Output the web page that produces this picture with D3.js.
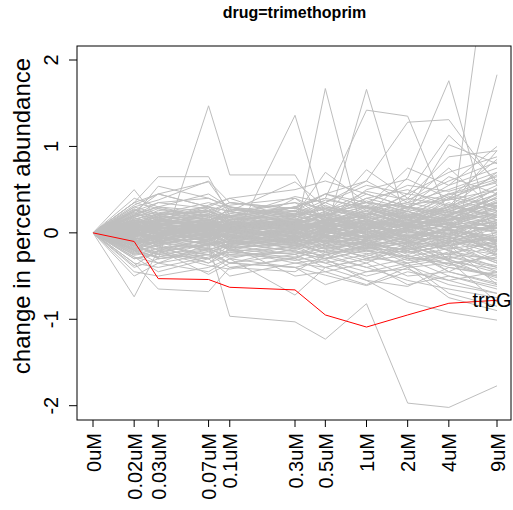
<!DOCTYPE html>
<html><head><meta charset="utf-8">
<script src="https://cdn.jsdelivr.net/npm/d3@7"></script>
<style>
html,body{margin:0;padding:0;background:#fff;}
text{font-family:"Liberation Sans",Arial,Helvetica,sans-serif;fill:#000;}
</style></head>
<body><svg id="chart" width="513" height="510"></svg>
<script>
const title = "drug=trimethoprim";
const yLabel = "change in percent abundance";
const concentrations = [0, 0.02, 0.03, 0.07, 0.1, 0.3, 0.5, 1, 2, 4, 9];
const concLabels = ["0uM","0.02uM","0.03uM","0.07uM","0.1uM","0.3uM","0.5uM","1uM","2uM","4uM","9uM"];
const yTicks = [-2, -1, 0, 1, 2];
const yTickLabels = ["-2", "-1", "0", "1", "2"];
const highlightName = "trpG";
const highlightValues = [0, -0.10, -0.53, -0.54, -0.63, -0.66, -0.95, -1.09, -0.95, -0.815, -0.78];
const backgroundProfiles = [
 [0, 0.10, -0.30, 1.47, 0.67, 0.67, 0.10, 0.05, -0.10, 0.15, 0.20],
 [0, 0.05, 0.12, 0.00, -0.18, 1.36, 0.18, 0.10, 0.25, 0.05, -0.10],
 [0, -0.05, 0.08, 0.15, 0.05, -0.05, 1.67, -0.18, 0.20, 0.30, 0.50],
 [0, 0.02, -0.05, 0.10, 0.08, 0.12, 0.00, 1.66, 0.07, 0.20, 0.35],
 [0, 0.10, 0.20, 0.25, 0.15, 0.30, 0.40, 1.42, 1.35, 0.20, 0.10],
 [0, 0.05, 0.10, 0.15, 0.20, 0.30, 0.45, 0.60, 1.28, 1.31, 0.55],
 [0, -0.05, 0.05, 0.00, 0.10, 0.05, 0.15, 0.20, 0.64, 1.76, -0.20],
 [0, 0.08, 0.00, -0.10, 0.05, 0.12, 0.20, 0.30, 0.10, -0.14, 4.00],
 [0, 0.00, -0.08, 0.05, -0.10, 0.00, 0.10, -0.05, 0.20, -0.33, 1.83],
 [0, -0.20, -0.35, -0.13, -0.965, -1.03, -1.23, -0.82, -1.97, -2.02, -1.77],
 [0, 0.35, 0.65, 0.65, 0.20, 0.25, 0.10, 0.30, 0.15, 0.40, 0.60],
 [0, 0.50, 0.15, 0.30, 0.25, 0.10, 0.20, 0.05, 0.30, 0.15, 0.45],
 [0, -0.74, -0.20, -0.35, -0.25, -0.15, -0.30, -0.20, -0.40, -0.35, -0.50],
 [0, -0.35, -0.65, -0.68, -0.40, -0.30, -0.45, -0.35, -0.60, -0.50, -0.65],
 [0, -0.15, -0.25, -0.30, -0.20, -0.35, -0.40, -0.55, -0.80, -0.92, -1.01],
 [0, -0.10, -0.30, -0.25, -0.35, -0.40, -0.49, -0.61, -0.45, -0.55, -0.70],
 [0, 0.12, 0.18, 0.22, 0.15, 0.20, 0.28, 0.35, 0.30, 0.45, 0.62],
 [0, -0.08, -0.12, -0.05, -0.10, -0.15, -0.08, -0.20, -0.18, -0.25, -0.30],
 [0, 0.05, 0.02, 0.08, 0.04, 0.10, 0.06, 0.12, 0.08, 0.15, 0.22],
 [0, -0.15, -0.10, -0.20, -0.12, -0.08, -0.18, -0.10, -0.22, -0.15, -0.35],
 [0, 0.22, 0.30, 0.18, 0.25, 0.12, 0.20, 0.40, 0.28, 0.55, 0.75],
 [0, 0.02, -0.04, 0.03, -0.02, 0.05, -0.06, 0.02, -0.05, 0.04, -0.08],
 [0, -0.25, -0.18, -0.30, -0.22, -0.28, -0.20, -0.32, -0.26, -0.40, -0.48],
 [0, 0.30, 0.22, 0.35, 0.28, 0.18, 0.30, 0.22, 0.45, 0.38, 0.50],
 [0, -0.05, 0.06, -0.02, 0.08, 0.00, 0.10, -0.06, 0.05, 0.12, 0.08],
 [0, 0.10, -0.05, 0.12, 0.02, -0.08, 0.04, 0.15, -0.10, 0.05, 0.18],
 [0, -0.30, -0.25, -0.18, -0.28, -0.20, -0.35, -0.25, -0.38, -0.30, -0.55],
 [0, 0.18, 0.08, 0.25, 0.10, 0.30, 0.15, 0.20, 0.35, 0.25, 0.40],
 [0, -0.10, -0.20, -0.08, -0.15, -0.25, -0.12, -0.30, -0.15, -0.45, -0.20],
 [0, 0.08, 0.15, 0.05, 0.18, 0.08, 0.22, 0.10, 0.18, 0.30, 0.95],
 [0, -0.02, 0.04, -0.08, 0.00, -0.05, 0.03, -0.10, 0.02, -0.12, 0.10],
 [0, 0.25, 0.35, 0.40, 0.30, 0.22, 0.38, 0.30, 0.20, 0.42, 0.30],
 [0, -0.18, -0.30, -0.22, -0.35, -0.18, -0.28, -0.40, -0.30, -0.50, -0.62],
 [0, 0.04, 0.10, 0.15, 0.06, 0.12, 0.02, 0.20, 0.12, -0.05, 0.25],
 [0, -0.12, -0.02, -0.15, -0.05, -0.12, -0.22, -0.08, -0.28, -0.18, -0.12],
 [0, 0.15, 0.05, 0.10, 0.20, 0.15, 0.08, 0.28, 0.15, 0.35, 0.15],
 [0, -0.35, -0.40, -0.28, -0.20, -0.32, -0.25, -0.15, -0.35, -0.28, -0.40],
 [0, 0.35, 0.28, 0.20, 0.32, 0.40, 0.25, 0.48, 0.38, 0.60, 0.82],
 [0, 0.00, -0.08, 0.05, -0.06, 0.02, -0.10, 0.08, -0.04, -0.15, -0.05],
 [0, -0.06, 0.12, -0.10, 0.10, -0.02, 0.15, 0.00, 0.20, 0.10, 0.35],
 [0, 0.20, 0.12, 0.28, 0.05, 0.18, 0.32, 0.15, 0.25, 0.08, 0.05],
 [0, -0.22, -0.15, -0.35, -0.18, -0.10, -0.25, -0.18, -0.12, -0.32, -0.80],
 [0, 0.06, 0.20, 0.10, 0.25, 0.05, 0.12, 0.30, 0.10, 0.28, 0.50],
 [0, -0.04, -0.15, 0.02, -0.08, -0.18, -0.02, -0.12, -0.20, -0.08, -0.25],
 [0, 0.40, 0.30, 0.25, 0.35, 0.28, 0.45, 0.35, 0.55, 0.48, 0.65],
 [0, 0.10, 0.04, -0.04, 0.12, 0.06, -0.02, 0.10, 0.00, 0.20, -0.10],
 [0, -0.14, -0.06, -0.12, -0.18, -0.06, -0.14, -0.22, -0.10, -0.20, -0.40],
 [0, 0.14, 0.26, 0.20, 0.12, 0.25, 0.18, 0.05, 0.22, 0.15, 0.28],
 [0, -0.28, -0.35, -0.45, -0.30, -0.40, -0.32, -0.45, -0.42, -0.60, -0.70],
 [0, 0.02, 0.08, -0.02, 0.10, 0.15, 0.05, -0.05, 0.12, 0.25, 0.45],
 [0, -0.08, 0.02, 0.08, -0.04, 0.04, -0.12, 0.05, -0.15, 0.00, -0.18],
 [0, 0.28, 0.15, 0.32, 0.40, 0.15, 0.22, 0.45, 0.30, 0.25, 0.15],
 [0, -0.20, -0.28, -0.12, -0.25, -0.30, -0.15, -0.28, -0.35, -0.22, -0.45],
 [0, 0.08, -0.02, 0.06, 0.00, 0.08, 0.12, -0.02, 0.06, 0.18, 0.30],
 [0, -0.40, -0.30, -0.20, -0.35, -0.25, -0.40, -0.30, -0.20, -0.45, -0.58],
 [0, 0.18, 0.28, 0.15, 0.22, 0.35, 0.28, 0.18, 0.40, 0.32, 0.20],
 [0, 0.00, 0.05, 0.12, 0.08, -0.04, 0.08, 0.18, 0.05, -0.08, 0.12],
 [0, -0.10, -0.16, -0.25, -0.08, -0.14, -0.05, -0.18, -0.08, -0.30, -0.15],
 [0, 0.12, 0.00, 0.18, 0.14, 0.02, 0.16, 0.05, 0.25, 0.12, 0.38],
 [0, 0.32, 0.45, 0.30, 0.18, 0.42, 0.35, 0.55, 0.45, 0.70, 0.88],
 [0, -0.06, -0.10, 0.00, -0.14, 0.00, -0.06, -0.14, 0.02, -0.05, -0.22],
 [0, 0.24, 0.10, 0.05, 0.15, 0.20, 0.10, 0.25, 0.08, 0.40, 0.25],
 [0, -0.16, -0.22, -0.14, -0.10, -0.22, -0.30, -0.08, -0.25, -0.12, -0.35],
 [0, 0.06, 0.14, 0.22, 0.10, 0.14, 0.24, 0.12, 0.30, 0.20, 0.05],
 [0, -0.02, -0.06, -0.12, 0.04, -0.10, 0.00, -0.04, -0.12, 0.08, 0.02],
 [0, 0.16, 0.22, 0.08, 0.30, 0.10, 0.06, 0.22, 0.18, 0.05, 0.32],
 [0, -0.24, -0.12, -0.18, -0.30, -0.15, -0.22, -0.35, -0.15, -0.38, -0.25],
 [0, 0.04, -0.10, 0.00, -0.12, 0.06, -0.04, -0.08, 0.10, -0.02, 0.15],
 [0, 0.20, 0.35, 0.28, 0.18, 0.30, 0.40, 0.28, 0.35, 0.50, 0.70],
 [0, -0.12, -0.05, -0.22, -0.15, -0.05, -0.18, -0.12, -0.30, -0.24, -0.10],
 [0, 0.10, 0.16, 0.04, 0.06, 0.22, 0.12, 0.06, 0.14, 0.30, 0.55],
 [0, -0.30, -0.22, -0.38, -0.42, -0.28, -0.35, -0.50, -0.38, -0.55, -0.45],
 [0, 0.02, 0.12, 0.20, -0.02, 0.10, 0.20, 0.35, 0.15, 0.05, -0.15],
 [0, -0.04, 0.00, -0.06, 0.06, -0.12, 0.02, -0.16, -0.06, 0.12, -0.28],
 [0, 0.26, 0.18, 0.12, 0.20, 0.26, 0.16, 0.32, 0.22, 0.15, 0.42],
 [0, -0.18, -0.08, -0.02, -0.20, -0.08, -0.10, 0.02, -0.18, -0.10, 0.05],
 [0, 0.10, 0.22, 0.30, 0.25, 0.59, 0.30, 0.20, 0.45, 1.13, 0.60],
 [0, 0.05, 0.00, 0.10, 0.15, 0.20, 0.70, 0.35, 0.25, 1.02, 0.80],
 [0, -0.05, 0.10, 0.05, 0.12, 0.30, 0.20, 0.73, 0.40, 0.88, 0.95],
 [0, 0.15, 0.10, 0.22, 0.35, 0.25, 0.45, 0.30, 0.75, 0.55, 1.00],
 [0, 0.20, 0.30, 0.45, 0.30, 0.15, 0.35, 0.60, 0.35, 0.75, 0.25],
 [0, 0.30, 0.38, 0.60, 0.35, 0.28, 0.20, 0.40, 0.50, 0.30, 0.70],
 [0, 0.35, 0.45, 0.30, 0.40, 0.50, 0.60, 0.45, 0.30, 0.65, 0.45],
 [0, -0.10, -0.05, 0.10, 0.00, 0.40, 0.15, 0.50, 0.62, 0.40, 0.85],
 [0, -0.45, -0.50, -0.40, -0.30, -0.72, -0.40, -0.30, -0.50, -0.45, -0.60],
 [0, -0.38, -0.20, -0.48, -0.35, -0.40, -0.60, -0.45, -0.35, -0.70, -0.85],
 [0, -0.28, -0.45, -0.30, -0.50, -0.35, -0.30, -0.55, -0.62, -0.40, -0.50],
 [0, -0.50, -0.35, -0.25, -0.40, -0.45, -0.25, -0.40, -0.55, -0.65, -0.75],
 [0, -0.20, -0.10, -0.30, -0.15, -0.50, -0.45, -0.60, -0.40, -0.75, -0.90],
 [0, 0.20, 0.54, 0.40, 0.30, 0.20, 0.35, 0.15, 0.30, 0.20, 0.40],
 [0, 0.25, 0.45, 0.59, 0.25, 0.35, 0.15, 0.25, 0.10, 0.30, 0.20],
 [0, 0.03, 0.07, -0.03, 0.05, 0.09, 0.01, -0.04, 0.06, 0.11, 0.02],
 [0, -0.07, -0.03, 0.04, -0.09, -0.02, -0.07, 0.03, -0.10, -0.04, -0.14],
 [0, 0.09, 0.01, 0.07, 0.11, 0.03, 0.09, 0.13, 0.04, 0.08, 0.18],
 [0, -0.01, -0.09, -0.07, -0.03, -0.11, 0.01, -0.06, -0.02, -0.13, -0.07],
 [0, 0.06, 0.11, 0.01, -0.04, 0.07, 0.13, 0.04, 0.10, -0.03, 0.08],
 [0, -0.11, -0.05, -0.13, -0.07, 0.01, -0.09, -0.15, -0.05, -0.09, -0.20],
 [0, 0.13, 0.05, 0.09, 0.01, 0.12, 0.04, 0.08, 0.15, 0.06, 0.12],
 [0, -0.03, 0.03, -0.01, -0.06, -0.08, 0.05, 0.00, -0.08, 0.03, -0.04],
 [0, 0.01, -0.06, 0.10, 0.03, -0.03, -0.09, 0.06, 0.01, -0.07, 0.09],
 [0, -0.09, -0.13, -0.04, -0.11, -0.06, -0.03, -0.11, -0.13, -0.02, -0.10],
 [0, 0.07, 0.09, 0.13, 0.07, 0.04, 0.11, 0.01, 0.09, 0.14, 0.26],
 [0, -0.05, 0.01, -0.09, 0.02, -0.04, -0.11, -0.07, 0.03, -0.10, 0.00],
 [0, 0.11, 0.03, -0.05, 0.09, 0.13, 0.07, 0.11, -0.03, 0.04, -0.06],
 [0, -0.13, -0.07, -0.01, -0.13, -0.09, -0.15, -0.03, -0.09, -0.17, -0.25],
 [0, 0.00, 0.13, 0.06, 0.00, 0.02, 0.16, 0.09, 0.12, 0.02, 0.14],
 [0, 0.04, -0.01, 0.02, 0.08, -0.06, 0.03, -0.09, 0.07, 0.10, -0.12],
 [0, -0.06, -0.11, -0.10, -0.01, -0.13, -0.04, -0.08, -0.16, -0.06, -0.16],
 [0, 0.08, 0.05, 0.11, 0.13, 0.08, -0.01, 0.16, 0.03, 0.22, 0.32],
 [0, -0.02, 0.09, 0.00, -0.05, 0.03, 0.08, -0.02, -0.07, 0.06, 0.05],
 [0, 0.14, 0.10, 0.03, 0.06, 0.16, 0.10, 0.03, 0.20, 0.12, 0.00],
 [0, -0.15, -0.01, -0.06, -0.16, -0.04, -0.12, -0.18, -0.03, -0.21, -0.32],
 [0, 0.02, 0.04, 0.14, 0.04, -0.01, 0.06, 0.14, 0.07, -0.01, 0.20],
 [0, -0.08, -0.14, -0.03, -0.04, -0.07, 0.04, -0.05, -0.11, -0.15, -0.02],
 [0, 0.05, -0.03, 0.05, 0.10, 0.11, -0.05, 0.05, 0.11, 0.16, 0.36],
 [0, -0.04, 0.06, -0.11, -0.10, 0.00, -0.02, 0.10, -0.01, -0.05, -0.18],
 [0, 0.12, 0.14, 0.08, 0.03, 0.06, 0.14, 0.19, 0.06, 0.24, 0.10],
 [0, -0.10, -0.02, -0.08, 0.01, -0.15, -0.08, -0.13, -0.20, -0.11, -0.05],
 [0, 0.06, 0.08, -0.06, 0.07, 0.04, 0.09, -0.06, 0.13, 0.09, 0.24],
 [0, -0.01, -0.04, 0.07, -0.08, 0.07, -0.05, 0.04, -0.04, 0.01, -0.09],
 [0, 0.10, 0.00, 0.02, 0.14, -0.02, 0.18, 0.07, 0.02, 0.19, 0.06],
 [0, 0.17, 0.09, 0.19, 0.05, 0.11, 0.21, 0.09, 0.17, 0.27, 0.44],
 [0, -0.19, -0.09, -0.17, -0.23, -0.11, -0.19, -0.27, -0.13, -0.33, -0.42],
 [0, 0.03, -0.12, 0.09, -0.07, 0.05, -0.13, 0.11, -0.06, 0.13, -0.20],
 [0, 0.21, 0.17, 0.07, 0.19, 0.09, 0.23, 0.13, 0.27, 0.19, 0.52],
 [0, -0.13, -0.19, -0.07, -0.21, -0.17, -0.09, -0.21, -0.27, -0.36, -0.52],
 [0, 0.09, 0.19, 0.16, 0.09, 0.19, 0.13, 0.23, 0.11, 0.33, 0.18],
 [0, -0.21, -0.14, -0.26, -0.12, -0.21, -0.26, -0.14, -0.32, -0.27, -0.38],
 [0, 0.01, 0.10, -0.04, 0.16, -0.07, 0.09, 0.17, -0.08, 0.21, 0.40],
 [0, 0.27, 0.21, 0.26, 0.15, 0.23, 0.19, 0.37, 0.24, 0.44, 0.58],
 [0, -0.07, -0.17, -0.14, -0.02, -0.19, -0.13, -0.02, -0.17, 0.04, -0.26],
 [0, 0.15, 0.07, 0.21, 0.17, 0.07, 0.14, 0.26, 0.19, 0.09, 0.29],
 [0, -0.26, -0.21, -0.13, -0.19, -0.25, -0.17, -0.24, -0.21, -0.31, -0.46],
 [0, 0.05, 0.17, 0.03, 0.12, 0.17, 0.01, 0.09, 0.21, 0.17, 0.05],
 [0, -0.11, 0.04, -0.16, -0.09, 0.03, -0.16, -0.09, -0.03, -0.20, 0.12],
 [0, 0.19, 0.24, 0.14, 0.27, 0.21, 0.27, 0.17, 0.33, 0.38, 0.67],
 [0, -0.03, -0.07, 0.03, -0.12, -0.03, 0.07, -0.13, 0.04, -0.07, -0.33],
 [0, 0.11, -0.02, 0.13, 0.04, 0.14, -0.03, 0.14, 0.09, 0.27, 0.12],
 [0, -0.17, -0.24, -0.10, -0.17, -0.13, -0.23, -0.17, -0.23, -0.14, -0.60],
 [0, 0.07, 0.13, 0.17, 0.02, 0.09, 0.18, 0.04, 0.16, 0.06, 0.47],
 [0, -0.09, -0.04, -0.19, -0.13, -0.09, -0.02, -0.19, -0.11, -0.26, -0.08],
 [0, 0.23, 0.14, 0.11, 0.23, 0.29, 0.11, 0.21, 0.29, 0.23, 0.34],
 [0, -0.05, 0.07, -0.03, 0.09, -0.09, 0.06, -0.01, 0.12, -0.11, 0.22],
 [0, 0.13, 0.21, 0.24, 0.19, 0.13, 0.25, 0.31, 0.17, 0.46, 0.30],
 [0, -0.23, -0.28, -0.19, -0.26, -0.23, -0.30, -0.20, -0.29, -0.35, -0.28],
 [0, 0.02, -0.05, 0.07, 0.05, 0.11, 0.04, -0.07, 0.07, 0.03, -0.24]
];

const svg = d3.select("#chart");
const box = {left: 77, right: 511, top: 46, bottom: 420};

// x: log2 concentration, 0 placed one doubling below the lowest dose
const x = d3.scaleLog().base(2).domain([0.01, 9]).range([93, 497]);
const xPos = c => x(c === 0 ? 0.01 : c);
const y = d3.scaleLinear().domain([-2, 2]).range([405.7, 60]);

svg.append("defs").append("clipPath").attr("id","clip")
  .append("rect").attr("x", box.left).attr("y", box.top)
  .attr("width", box.right - box.left).attr("height", box.bottom - box.top);

const line = d3.line().x((d, i) => xPos(concentrations[i])).y(d => y(d));

const plot = svg.append("g").attr("clip-path", "url(#clip)");
plot.selectAll("path.bg").data(backgroundProfiles).join("path")
  .attr("class","bg").attr("d", line)
  .attr("fill","none").attr("stroke","#bebebe").attr("stroke-width",1);
plot.append("path").datum(highlightValues).attr("d", line)
  .attr("fill","none").attr("stroke","#ff0000").attr("stroke-width",1);

svg.append("text").attr("x", xPos(concentrations[concentrations.length-1]) - 5)
  .attr("y", y(highlightValues[highlightValues.length-1]) + 7)
  .attr("text-anchor","middle").attr("font-size", 20).text(highlightName);

// box
svg.append("rect").attr("x", box.left).attr("y", box.top)
  .attr("width", box.right - box.left).attr("height", box.bottom - box.top)
  .attr("fill","none").attr("stroke","#000").attr("stroke-width",1);

// y axis
const yAxis = svg.append("g");
yAxis.selectAll("line").data(yTicks).join("line")
  .attr("x1", box.left - 8).attr("x2", box.left)
  .attr("y1", d => y(d)).attr("y2", d => y(d)).attr("stroke","#000");
yAxis.selectAll("text").data(yTicks).join("text")
  .attr("transform", d => `translate(58,${y(d)}) rotate(-90)`)
  .attr("text-anchor","middle").attr("font-size", 20)
  .text((d, i) => yTickLabels[i]);

// x axis
const xAxis = svg.append("g").attr("transform", `translate(0,${box.bottom})`);
xAxis.selectAll("line").data(concentrations).join("line")
  .attr("x1", d => xPos(d)).attr("x2", d => xPos(d))
  .attr("y1", 0).attr("y2", 7).attr("stroke","#000");
xAxis.selectAll("text").data(concentrations).join("text")
  .attr("transform", d => `translate(${xPos(d) + 7.5},13) rotate(-90)`)
  .attr("text-anchor","end").attr("font-size", 20)
  .text((d, i) => concLabels[i]);

// titles
svg.append("text").attr("x", 294.5).attr("y", 18).attr("text-anchor","middle")
  .attr("font-size", 16).attr("font-weight","bold").text(title);
svg.append("text").attr("transform", "translate(30,216) rotate(-90)")
  .attr("text-anchor","middle").attr("font-size", 24).text(yLabel);
</script></body></html>
